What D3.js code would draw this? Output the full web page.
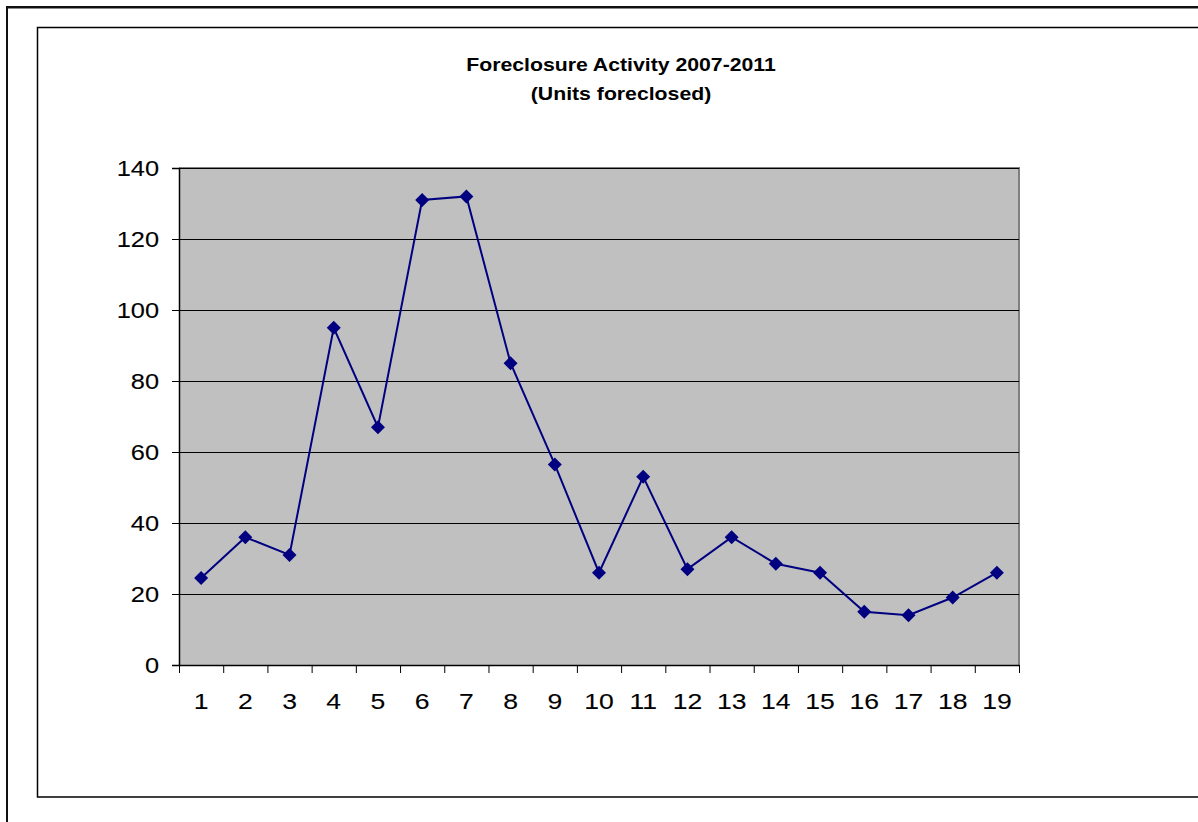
<!DOCTYPE html>
<html>
<head>
<meta charset="utf-8">
<script src="https://cdn.jsdelivr.net/npm/d3@7/dist/d3.min.js"></script>
<style>
  html, body { margin: 0; padding: 0; background: #fff; }
  svg { display: block; }
  text { font-family: Arial, "Liberation Sans", sans-serif; fill: #000; }
  .tick-label { stroke: #000; stroke-width: 0.1px; }
</style>
</head>
<body>
<svg id="chart" width="1198" height="822"></svg>
<script>
// Units foreclosed per period
const periods = ["1","2","3","4","5","6","7","8","9","10","11","12","13","14","15","16","17","18","19"];
const unitsForeclosed = [24.5, 36, 31, 95, 67, 131, 132, 85, 56.5, 26, 53, 27, 36, 28.5, 26, 15, 14, 19, 26];
const yTicks = [0, 20, 40, 60, 80, 100, 120, 140];
const titleLines = ["Foreclosure Activity 2007-2011", "(Units foreclosed)"];

const svg = d3.select("#chart");
const W = 1198, H = 822;
const plot = { left: 179, right: 1019, top: 168, bottom: 665 };
const stretch = 1.18; // horizontal stretch of the chart lettering

svg.append("rect").attr("width", W).attr("height", H).attr("fill", "#fff");

// outer frame and chart-area frame
svg.append("rect").attr("x", 7).attr("y", 7).attr("width", W + 20).attr("height", H + 20)
  .attr("fill", "none").attr("stroke", "#111").attr("stroke-width", 2);
svg.append("line").attr("x1", 8).attr("x2", W).attr("y1", 8.5).attr("y2", 8.5)
  .attr("stroke", "#888").attr("stroke-width", 1);
svg.append("rect").attr("x", 37.5).attr("y", 27.5).attr("width", W + 20).attr("height", 769.5)
  .attr("fill", "none").attr("stroke", "#000").attr("stroke-width", 1.5);

const x = d3.scaleBand().domain(periods).range([plot.left, plot.right]).padding(0);
const xEdge = d3.scaleLinear().domain([0, periods.length]).range([plot.left, plot.right]);
const y = d3.scaleLinear().domain([0, 140]).range([plot.bottom, plot.top]);

// plot area
svg.append("rect")
  .attr("x", plot.left).attr("y", plot.top)
  .attr("width", plot.right - plot.left).attr("height", plot.bottom - plot.top)
  .attr("fill", "#c0c0c0");
svg.append("path")
  .attr("d", `M${plot.left},${plot.top}H${plot.right}V${plot.bottom}`)
  .attr("fill", "none").attr("stroke", "#808080").attr("stroke-width", 2);

// horizontal gridlines
svg.append("g").selectAll("line").data(yTicks.filter(d => d > 0)).join("line")
  .attr("x1", plot.left).attr("x2", plot.right)
  .attr("y1", d => Math.round(y(d)) + 0.5).attr("y2", d => Math.round(y(d)) + 0.5)
  .attr("stroke", "#000").attr("stroke-width", 1);

// y axis
const yAxis = svg.append("g").attr("transform", `translate(${plot.left},0)`)
  .call(d3.axisLeft(y).tickValues(yTicks).tickSize(7).tickFormat(""));
yAxis.select(".domain").attr("stroke", "#000").attr("stroke-width", 1.5);
yAxis.selectAll(".tick line").attr("stroke", "#000");

// x axis (ticks between categories)
const xAxis = svg.append("g").attr("transform", `translate(0,${plot.bottom})`)
  .call(d3.axisBottom(xEdge).tickValues(d3.range(periods.length + 1)).tickSize(8).tickFormat("").tickSizeOuter(0));
xAxis.select(".domain").attr("stroke", "#000").attr("stroke-width", 1.5);
xAxis.selectAll(".tick line").attr("stroke", "#000");

// tick labels
svg.append("g").selectAll("text").data(yTicks).join("text")
  .attr("class", "tick-label")
  .attr("transform", d => `translate(159,${y(d)}) scale(${stretch},1)`)
  .attr("text-anchor", "end").attr("dy", "0.35em")
  .style("font-size", "21.5px")
  .text(d => d);

svg.append("g").selectAll("text").data(periods).join("text")
  .attr("class", "tick-label")
  .attr("transform", d => `translate(${x(d) + x.bandwidth() / 2},709) scale(${stretch},1)`)
  .attr("text-anchor", "middle")
  .style("font-size", "22.5px")
  .text(d => d);

// title
svg.append("g").selectAll("text").data(titleLines).join("text")
  .attr("transform", (d, i) => `translate(621,${71 + i * 29}) scale(${stretch},1)`)
  .attr("text-anchor", "middle")
  .style("font-size", "18px").style("font-weight", "bold")
  .text(d => d);

// series line and diamond markers
const cx = d => x(d) + x.bandwidth() / 2;
const line = d3.line().x((d, i) => cx(periods[i])).y(d => y(d));
svg.append("path").datum(unitsForeclosed)
  .attr("d", line).attr("fill", "none").attr("stroke", "#000080").attr("stroke-width", 2);

svg.append("g").selectAll("path").data(unitsForeclosed).join("path")
  .attr("transform", (d, i) => `translate(${cx(periods[i])},${y(d)})`)
  .attr("d", "M0,-7L7,0L0,7L-7,0Z")
  .attr("fill", "#000080");
</script>
</body>
</html>
